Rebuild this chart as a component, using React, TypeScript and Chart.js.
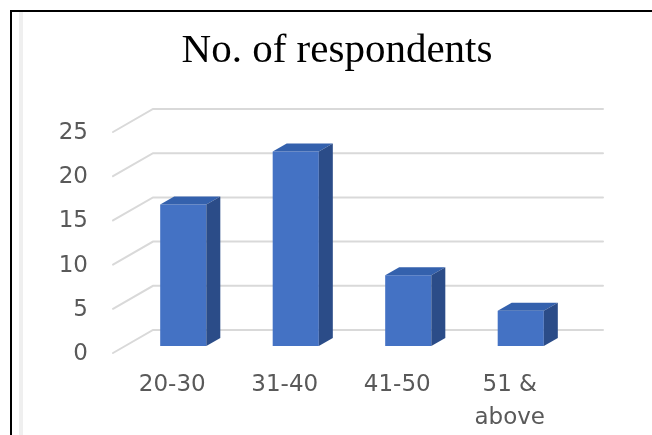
import React, { useEffect, useRef } from "react";
import { Chart, registerables } from "chart.js";

Chart.register(...registerables);

const categories: (string | string[])[] = ["20-30", "31-40", "41-50", ["51 &", "above"]];
const respondents: number[] = [16, 22, 8, 4];
const yTicks: number[] = [0, 5, 10, 15, 20, 25];
const chartTitle = "No. of respondents";

const FRONT = "#4472C4";
const TOP = "#3461AD";
const SIDE = "#2B4C88";
const GRID = "#d9d9d9";
const LABEL = "#595959";

const DEPTH_X = 14;
const DEPTH_Y = 8;
const WALL_X = 26;
const WALL_Y = 16;
const FLOOR_X = 14;
const FLOOR_Y = 7;

const wallPlugin = {
  id: "wall3d",
  beforeDatasetsDraw(chart: any) {
    const { ctx, chartArea, scales } = chart;
    const y = scales.y;
    ctx.save();
    ctx.strokeStyle = GRID;
    ctx.lineWidth = 2;
    ctx.lineCap = "round";
    for (const v of yTicks) {
      const py = y.getPixelForValue(v);
      const bx = chartArea.left + WALL_X;
      const by = py - WALL_Y;
      ctx.beginPath();
      ctx.moveTo(chartArea.left - FLOOR_X, py + FLOOR_Y);
      ctx.lineTo(bx, by);
      ctx.lineTo(chartArea.right + WALL_X, by);
      ctx.stroke();
    }
    ctx.restore();
  },
};

const bar3dPlugin = {
  id: "bar3d",
  afterDatasetsDraw(chart: any) {
    const { ctx } = chart;
    const meta = chart.getDatasetMeta(0);
    ctx.save();
    meta.data.forEach((el: any) => {
      const p = el.getProps(["x", "y", "base", "width"], true);
      const l = p.x - p.width / 2;
      const r = p.x + p.width / 2;
      ctx.fillStyle = TOP;
      ctx.beginPath();
      ctx.moveTo(l, p.y);
      ctx.lineTo(l + DEPTH_X, p.y - DEPTH_Y);
      ctx.lineTo(r + DEPTH_X, p.y - DEPTH_Y);
      ctx.lineTo(r, p.y);
      ctx.closePath();
      ctx.fill();
      ctx.fillStyle = SIDE;
      ctx.beginPath();
      ctx.moveTo(r, p.y);
      ctx.lineTo(r + DEPTH_X, p.y - DEPTH_Y);
      ctx.lineTo(r + DEPTH_X, p.base - DEPTH_Y);
      ctx.lineTo(r, p.base);
      ctx.closePath();
      ctx.fill();
    });
    ctx.restore();
  },
};

const titlePlugin = {
  id: "titleText",
  afterDraw(chart: any) {
    const { ctx } = chart;
    ctx.save();
    ctx.fillStyle = "#000000";
    ctx.font = '41px "Liberation Serif", "Times New Roman", serif';
    ctx.textAlign = "center";
    ctx.textBaseline = "middle";
    ctx.fillText(chartTitle, 337, 51);
    ctx.restore();
  },
};

export default function App() {
  const ref = useRef<HTMLCanvasElement | null>(null);

  useEffect(() => {
    if (!ref.current) return;
    const chart = new Chart(ref.current, {
      type: "bar",
      data: {
        labels: categories as any,
        datasets: [
          {
            data: respondents,
            backgroundColor: FRONT,
            borderWidth: 0,
            categoryPercentage: 1,
            barPercentage: 0.41,
          },
        ],
      },
      options: {
        animation: false,
        responsive: false,
        maintainAspectRatio: false,
        layout: { padding: { left: 30, right: 75, top: 125, bottom: 0 } },
        plugins: {
          legend: { display: false },
          title: { display: false },
          tooltip: { enabled: false },
        },
        scales: {
          x: {
            grid: { display: false, drawTicks: false },
            border: { display: false },
            ticks: {
              color: LABEL,
              font: { family: '"DejaVu Sans", sans-serif', size: 23, lineHeight: 1.45 },
              padding: 22,
              labelOffset: -11,
              maxRotation: 0,
              autoSkip: false,
            },
            afterFit: (s: any) => {
              s.height = 89;
            },
          },
          y: {
            min: 0,
            max: 25,
            grid: { display: false, drawTicks: false },
            border: { display: false },
            ticks: {
              stepSize: 5,
              color: LABEL,
              font: { family: '"DejaVu Sans", sans-serif', size: 23 },
              padding: 39,
              labelOffset: 8,
            },
            afterFit: (s: any) => {
              s.width = 97;
            },
          },
        },
      },
      plugins: [wallPlugin, bar3dPlugin, titlePlugin],
    });
    return () => chart.destroy();
  }, []);

  return (
    <div style={{ position: "fixed", left: 0, top: 0, width: 652, height: 435, background: "#ffffff", overflow: "hidden" }}>
      <div style={{ position: "absolute", left: 10, top: 10, width: 642, height: 425, borderTop: "2px solid #000", borderLeft: "2px solid #000" }} />
      <div style={{ position: "absolute", left: 19, top: 12, width: 4, height: 423, background: "#efefef" }} />
      <canvas ref={ref} width={652} height={435} style={{ position: "absolute", left: 0, top: 0, width: 652, height: 435 }} />
    </div>
  );
}
